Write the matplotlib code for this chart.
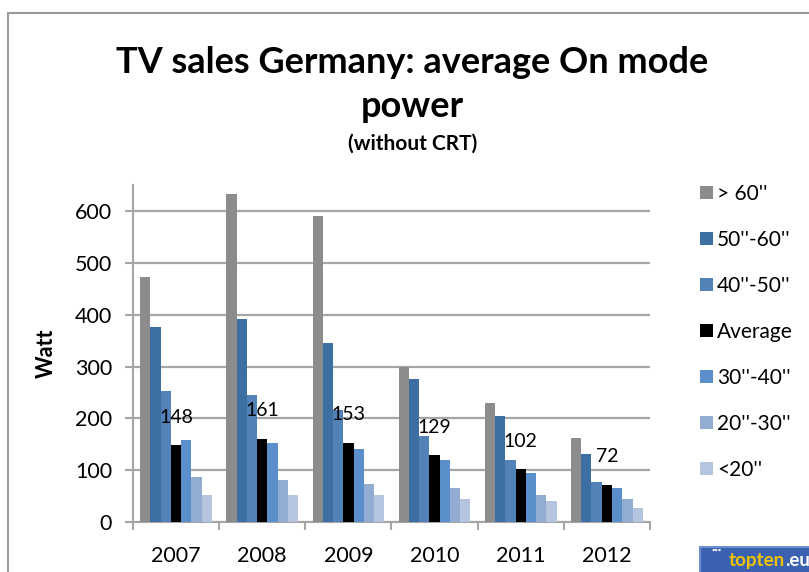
import numpy as np
import matplotlib.pyplot as plt
from matplotlib.patches import Rectangle

plt.rcParams['font.family'] = ['Lato', 'DejaVu Sans']

years = ['2007', '2008', '2009', '2010', '2011', '2012']
series = ["> 60''", "50''-60''", "40''-50''", 'Average', "30''-40''", "20''-30''", "<20''"]
over_60 = [472, 632, 590, 300, 229, 162]
s50_60 = [377, 392, 346, 275, 204, 132]
s40_50 = [252, 246, 217, 166, 119, 78]
average = [148, 161, 153, 129, 102, 72]
s30_40 = [158, 153, 141, 119, 94, 66]
s20_30 = [86, 81, 74, 65, 53, 44]
under_20 = [53, 53, 53, 44, 40, 27]
colors = ['#8c8c8c', '#3e6fa2', '#5282b8', '#000000', '#5b8fcc', '#93acd2', '#b5c5e0']

values = [over_60, s50_60, s40_50, average, s30_40, s20_30, under_20]

fig = plt.figure(figsize=(8.09, 5.72), dpi=100)
ax = fig.add_axes([0.1644, 0.0874, 0.639, 0.589])

x = np.arange(len(years))
w = 0.119
for i, (vals, col, name) in enumerate(zip(values, colors, series)):
    pos = x + (i - 3) * w
    ax.bar(pos, vals, width=w, color=col, label=name, zorder=3)
    if name == 'Average':
        for p, v in zip(pos, vals):
            ax.annotate(str(v), (p, v), xytext=(0, 14), textcoords='offset points',
                        ha='center', va='bottom', fontsize=14)

ax.set_xlim(-0.5, 5.5)
ax.set_ylim(0, 650)
ax.set_yticks(range(0, 700, 100))
ax.yaxis.grid(True, color='#a6a6a6', linewidth=1.6, zorder=0)
ax.set_xticks(x)
ax.set_xticklabels(years)
ax.set_xticks(np.arange(-0.5, 6, 1), minor=True)
ax.tick_params(axis='x', which='major', length=0, labelsize=15.5, pad=17)
ax.tick_params(axis='x', which='minor', length=6, color='#a6a6a6', width=1.5)
ax.tick_params(axis='y', length=6, color='#a6a6a6', width=1.5, labelsize=15.5, pad=9)
for s in ['top', 'right']:
    ax.spines[s].set_visible(False)
for s in ['left', 'bottom']:
    ax.spines[s].set_color('#a6a6a6')
    ax.spines[s].set_linewidth(1.5)
ax.set_ylabel('Watt', fontsize=15.5, fontweight='bold', labelpad=13)

fig.text(0.51, 0.873, 'TV sales Germany: average On mode', ha='center', va='baseline',
         fontsize=26, fontweight='bold')
fig.text(0.51, 0.795, 'power', ha='center', va='baseline', fontsize=26, fontweight='bold')
fig.text(0.51, 0.738, '(without CRT)', ha='center', va='baseline', fontsize=15, fontweight='bold')

ax.legend(loc='upper left', bbox_to_anchor=(0.853, 0.697), bbox_transform=fig.transFigure,
          frameon=False, fontsize=15, handlelength=0.6, handleheight=0.6,
          handletextpad=0.2, labelspacing=1.25, borderpad=0)

# chart border
fig.patches.append(Rectangle((8 / 809, -0.1), 1.1, 1 - 13 / 572 + 0.1, transform=fig.transFigure,
                             fill=False, edgecolor='#9a9a9a', linewidth=1.5))

# logo
fig.patches.append(Rectangle((700 / 809, -0.05), 0.2, 0.05 + 25 / 572, transform=fig.transFigure,
                             facecolor='#3a62b0', edgecolor='#6d8fcf', linewidth=1.5))
t = fig.text(729 / 809, 6 / 572, 'topten', color='#f2c200', fontsize=13.5, fontweight='bold',
             ha='left', va='baseline')
fig.text(711 / 809, 19 / 572, '\u25aa\u25aa\u25aa', color='#e8e8e8', fontsize=6, ha='left', va='baseline')
fig.add_artist(plt.Annotation('.eu', xy=(1, 0), xycoords=t, color='white', fontsize=13.5,
                              fontweight='bold', ha='left', va='bottom'))

fig.savefig('out.png', dpi=100)
